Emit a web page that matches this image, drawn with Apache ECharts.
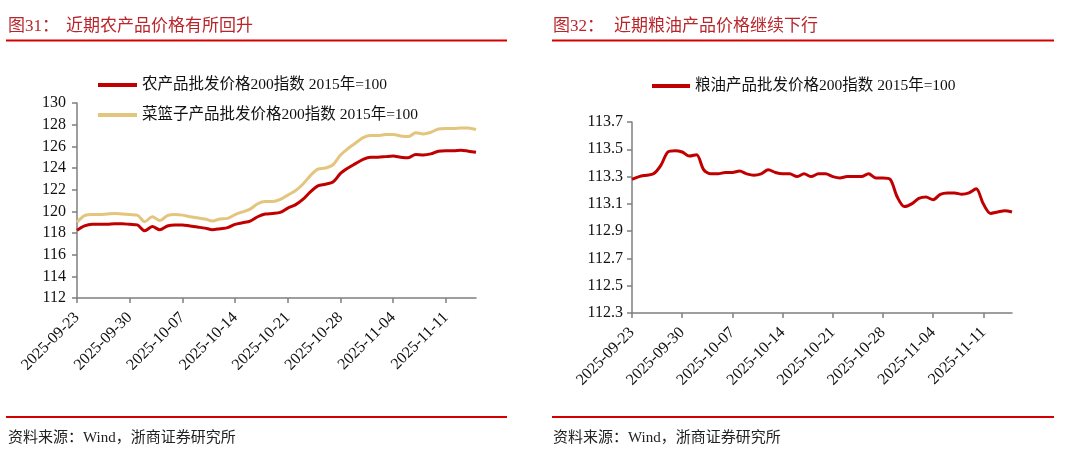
<!DOCTYPE html>
<html><head><meta charset="utf-8">
<script src="https://cdn.jsdelivr.net/npm/echarts@6/dist/echarts.min.js"></script>
<style>html,body{margin:0;padding:0;background:#fff}#c{width:1080px;height:450px}</style>
</head><body><div id="c"></div>
<script>
const dates = ['2025-09-23','2025-09-24','2025-09-25','2025-09-26','2025-09-27','2025-09-28','2025-09-29','2025-09-30',
'2025-10-01','2025-10-02','2025-10-03','2025-10-04','2025-10-05','2025-10-06','2025-10-07','2025-10-08','2025-10-09',
'2025-10-10','2025-10-11','2025-10-12','2025-10-13','2025-10-14','2025-10-15','2025-10-16','2025-10-17','2025-10-18',
'2025-10-19','2025-10-20','2025-10-21','2025-10-22','2025-10-23','2025-10-24','2025-10-25','2025-10-26','2025-10-27',
'2025-10-28','2025-10-29','2025-10-30','2025-10-31','2025-11-01','2025-11-02','2025-11-03','2025-11-04','2025-11-05',
'2025-11-06','2025-11-07','2025-11-08','2025-11-09','2025-11-10','2025-11-11','2025-11-12','2025-11-13','2025-11-14','2025-11-15'];

const agri200 = [118.25,118.65,118.8,118.8,118.8,118.85,118.85,118.8,118.75,118.2,118.6,118.3,118.65,118.75,
118.75,118.65,118.55,118.45,118.3,118.4,118.5,118.8,118.95,119.1,119.5,119.75,119.8,119.9,120.3,120.6,121.1,
121.8,122.35,122.5,122.7,123.5,124.0,124.4,124.8,125.0,125.0,125.05,125.1,125.0,124.95,125.25,125.2,125.3,
125.55,125.6,125.6,125.65,125.55,125.45];

const basket200 = [119.0,119.6,119.7,119.7,119.75,119.8,119.75,119.7,119.65,119.05,119.5,119.15,119.6,119.7,
119.65,119.5,119.4,119.3,119.1,119.3,119.35,119.7,119.95,120.2,120.7,120.9,120.9,121.1,121.5,121.9,122.5,
123.3,123.9,124.0,124.3,125.2,125.8,126.3,126.8,127.0,127.0,127.1,127.1,126.95,126.9,127.25,127.15,127.3,
127.6,127.65,127.65,127.7,127.7,127.55];

const grainOil200 = [113.28,113.3,113.31,113.32,113.38,113.48,113.49,113.48,113.45,113.46,113.35,113.32,113.32,
113.33,113.33,113.34,113.32,113.31,113.32,113.35,113.33,113.32,113.32,113.3,113.32,113.3,113.32,113.32,113.3,
113.29,113.3,113.3,113.3,113.32,113.29,113.29,113.28,113.15,113.08,113.1,113.14,113.15,113.13,113.17,113.18,
113.18,113.17,113.18,113.21,113.1,113.03,113.04,113.05,113.04];

const leftTicks = [112,114,116,118,120,122,124,126,128,130];
const rightTicks = [112.3,112.5,112.7,112.9,113.1,113.3,113.5,113.7];

const nameAgri = '农产品批发价格200指数 2015年=100';
const nameBasket = '菜篮子产品批发价格200指数 2015年=100';
const nameGrain = '粮油产品批发价格200指数 2015年=100';
const fig1 = '图31：', title1 = '近期农产品价格有所回升';
const fig2 = '图32：', title2 = '近期粮油产品价格继续下行';
const source = '资料来源：Wind，浙商证券研究所';

const FONT = '"Liberation Serif", "Noto Sans CJK SC", serif';
const TFONT = '"Liberation Serif", "Noto Sans CJK SC", sans-serif';
const RED = '#c00000';
const YEL = '#e3c57d';
const AX = '#7f7f7f';
const TCOL = '#b8262b';

function xAxis(gi){
  return {type:'category', gridIndex:gi, data:dates, boundaryGap:false,
    axisLine:{lineStyle:{color:AX,width:1.5}},
    axisTick:{interval:6, length:5, lineStyle:{color:AX,width:1.5}},
    axisLabel:{interval:6, rotate:45, margin:17, fontSize:16, fontFamily:FONT, color:'#111'}};
}
function yAxis(gi,min,max,ticks,dec,margin){
  return {type:'value', gridIndex:gi, min:min, max:max, splitLine:{show:false},
    axisLine:{show:true,lineStyle:{color:AX,width:1.5}},
    axisTick:{show:true,length:5,customValues:ticks,lineStyle:{color:AX,width:1.5}},
    axisLabel:{customValues:ticks, margin:margin, fontSize:16, fontFamily:FONT, color:'#111',
      formatter:v=>v.toFixed(dec)}};
}
function ttl(text,left,top,size,color){
  return {text:text, left:left, top:top, textStyle:{fontFamily:TFONT, fontSize:size, fontWeight:'normal', color:color}};
}

const chart = echarts.init(document.getElementById('c'), null, {renderer:'canvas'});
chart.setOption({
  animation:false,
  title:[
    ttl(fig1, 3, 13, 17, TCOL),
    ttl(title1, 61, 13, 17, TCOL),
    ttl(fig2, 548, 13, 17, TCOL),
    ttl(title2, 609, 13, 17, TCOL),
    ttl(source, 3, 426, 15, '#222'),
    ttl(source, 548, 426, 15, '#222')
  ],
  graphic:[
    {type:'line', shape:{x1:6,y1:40.5,x2:507,y2:40.5}, style:{stroke:'#d40000',lineWidth:2}},
    {type:'line', shape:{x1:552,y1:40.5,x2:1054,y2:40.5}, style:{stroke:'#d40000',lineWidth:2}},
    {type:'line', shape:{x1:6,y1:417,x2:507,y2:417}, style:{stroke:'#d40000',lineWidth:2}},
    {type:'line', shape:{x1:552,y1:417,x2:1054,y2:417}, style:{stroke:'#d40000',lineWidth:2}}
  ],
  legend:[
    {data:[nameAgri,nameBasket], orient:'vertical', left:93, top:71, itemGap:12, itemWidth:39, itemHeight:4,
      icon:'rect', textStyle:{fontFamily:FONT, fontSize:15.5, color:'#111', lineHeight:18}},
    {data:[nameGrain], left:647, top:72, itemWidth:38, itemHeight:4,
      icon:'rect', textStyle:{fontFamily:FONT, fontSize:15.5, color:'#111', lineHeight:18}}
  ],
  grid:[
    {left:77, top:103, width:399, height:195},
    {left:632, top:122, width:380, height:191}
  ],
  xAxis:[xAxis(0), xAxis(1)],
  yAxis:[yAxis(0,112,130,leftTicks,0,11), yAxis(1,112.3,113.7,rightTicks,1,9)],
  series:[
    {name:nameAgri, type:'line', xAxisIndex:0, yAxisIndex:0, data:agri200, symbol:'none', smooth:0.3,
      lineStyle:{color:RED,width:3}, itemStyle:{color:RED}, z:3},
    {name:nameBasket, type:'line', xAxisIndex:0, yAxisIndex:0, data:basket200, symbol:'none', smooth:0.3,
      lineStyle:{color:YEL,width:3}, itemStyle:{color:YEL}, z:2},
    {name:nameGrain, type:'line', xAxisIndex:1, yAxisIndex:1, data:grainOil200, symbol:'none', smooth:0.3,
      lineStyle:{color:RED,width:3}, itemStyle:{color:RED}}
  ]
});
</script></body></html>
